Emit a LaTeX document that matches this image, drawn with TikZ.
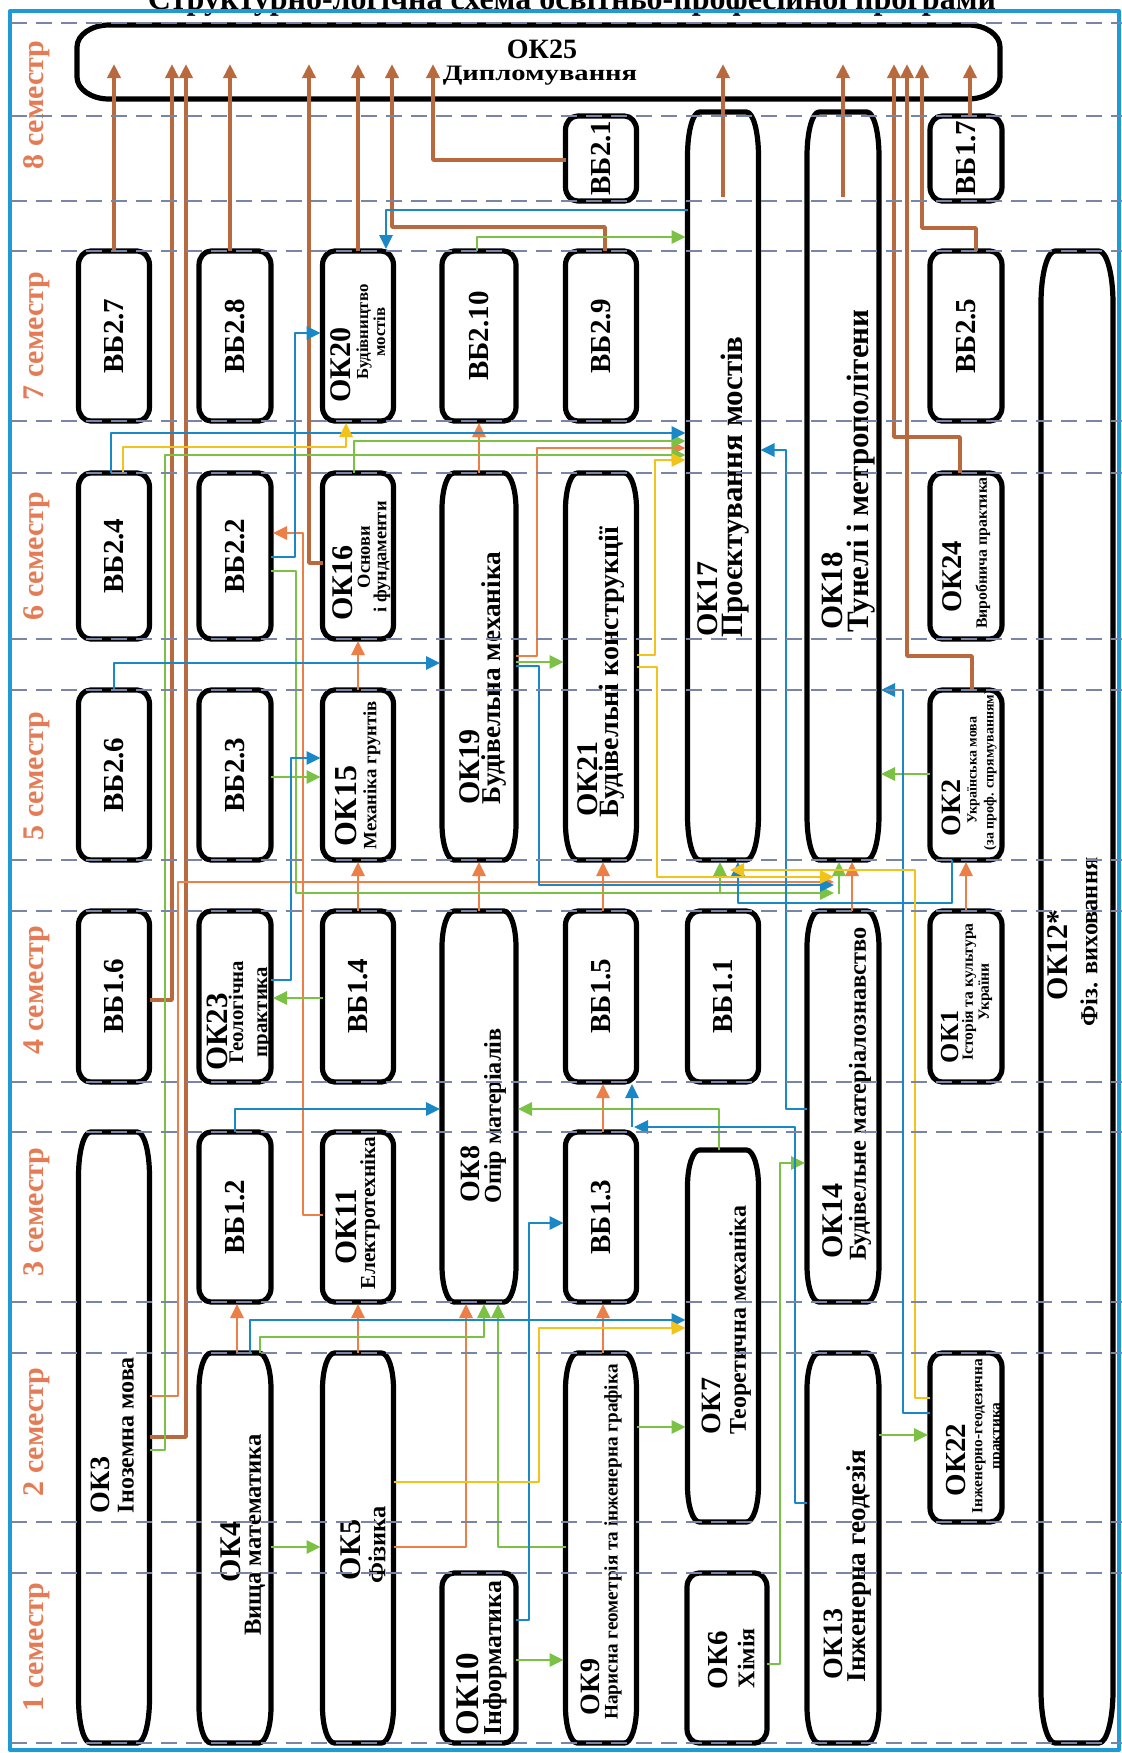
\documentclass[tikz,border=0pt]{standalone}
\usepackage{fontspec}
\usepackage{graphicx}
\setmainfont{Liberation Serif}
\usetikzlibrary{arrows.meta}
\definecolor{frameblue}{HTML}{1E9BD7}
\definecolor{dashc}{HTML}{7A84A6}
\definecolor{semc}{HTML}{E57B55}
\definecolor{brc}{HTML}{B86A3E}
\definecolor{orc}{HTML}{EC7F47}
\definecolor{grc}{HTML}{7BC143}
\definecolor{blc}{HTML}{1A87C7}
\definecolor{yec}{HTML}{F2C31B}
\tikzset{
  boxnode/.style={draw=none,inner sep=0pt,outer sep=0pt},
  boxline/.style={draw=black,fill=white,line width=2.6pt},
  lab/.style={rotate=90,inner sep=0pt,align=center},
  labh/.style={inner sep=0pt,align=center},
  semlab/.style={rotate=90,inner sep=0pt,text=semc,font=\fontsize{15}{18}\selectfont\bfseries},
  tip/.style={-{Triangle[length=7pt,width=6.5pt]},shorten >=1pt},
  cbr/.style={draw=brc,line width=1.8pt,tip},
  cor/.style={draw=orc,line width=1.4pt,tip},
  cgr/.style={draw=grc,line width=1.4pt,tip},
  cbl/.style={draw=blc,line width=1.4pt,tip},
  cye/.style={draw=yec,line width=1.4pt,tip},
  dashln/.style={draw=dashc,line width=1pt,dash pattern=on 8pt off 4.5pt},
}
\newcommand\bx[7]{%
  \node[boxnode,minimum width={#5*0.5pt},minimum height={(#4-#3)*0.5pt}] (#1) at (#2,{(#3+#4)/2}) {};
  \filldraw[boxline] ([xshift=#6]#1.north west) -- ([xshift=-#6]#1.north east)
   arc[start angle=90,end angle=0,x radius=#6,y radius=#7]
   -- ([yshift=#7]#1.south east)
   arc[start angle=0,end angle=-90,x radius=#6,y radius=#7]
   -- ([xshift=#6]#1.south west)
   arc[start angle=270,end angle=180,x radius=#6,y radius=#7]
   -- ([yshift=-#7]#1.north west)
   arc[start angle=180,end angle=90,x radius=#6,y radius=#7] -- cycle;}
\newcommand\lab[6]{\node[lab,font=\fontsize{#4}{#5}\selectfont\bfseries] (#1) at (#2,#3) {#6};}
\begin{document}
\begin{tikzpicture}[x=0.5pt,y=-0.5pt,line join=round]
\useasboundingbox (0,0) rectangle (1122,1753);
\fill[white] (0,0) rectangle (1122,1753);
% title
\node[anchor=base,inner sep=0pt,font=\fontsize{16}{19}\selectfont\bfseries] (title) at (572,9) {Структурно-логічна схема освітньо-професійної програми};
% frame
\draw[frameblue,line width=2pt] (10,11) rectangle (1119,1750);
% semester labels
\node[semlab] (s1) at (37,1647) {1 семестр};
\node[semlab] (s2) at (37,1432) {2 семестр};
\node[semlab] (s3) at (37,1212) {3 семестр};
\node[semlab] (s4) at (37,990) {4 семестр};
\node[semlab] (s5) at (37,776) {5 семестр};
\node[semlab] (s6) at (37,556) {6 семестр};
\node[semlab] (s7) at (37,336) {7 семестр};
\node[semlab] (s8) at (37,105) {8 семестр};
% boxes
\bx{ok25}{538.5}{25}{99}{923}{16pt}{11pt}
\bx{vb21}{601}{116}{201}{71}{6pt}{7pt}
\bx{vb17}{966}{116}{201}{72}{6pt}{7pt}
\bx{ok17}{723}{112}{860}{71}{6pt}{22pt}
\bx{ok18}{843}{112}{860}{72}{6pt}{22pt}
\bx{ok12}{1077}{251}{1743}{72}{7pt}{26pt}
\bx{vb27}{114}{251}{421}{71}{6pt}{7pt}
\bx{vb28}{235}{251}{421}{72}{6pt}{7pt}
\bx{ok20}{358}{251}{421}{71}{6pt}{7pt}
\bx{vb210}{479}{251}{421}{74}{6pt}{7pt}
\bx{vb29}{601}{251}{421}{71}{6pt}{7pt}
\bx{vb25}{966}{251}{421}{72}{6pt}{7pt}
\bx{vb24}{114}{473}{639}{71}{6pt}{7pt}
\bx{vb22}{235}{473}{639}{72}{6pt}{7pt}
\bx{ok16}{358}{473}{639}{71}{6pt}{7pt}
\bx{ok24}{966}{473}{639}{72}{6pt}{7pt}
\bx{ok19}{479}{473}{860}{74}{6pt}{18pt}
\bx{ok21}{601}{473}{860}{71}{6pt}{18pt}
\bx{vb26}{114}{690}{860}{71}{6pt}{7pt}
\bx{vb23}{235}{690}{860}{72}{6pt}{7pt}
\bx{ok15}{358}{690}{860}{71}{6pt}{7pt}
\bx{ok2}{966}{690}{860}{72}{6pt}{7pt}
\bx{vb16}{114}{911}{1082}{71}{6pt}{7pt}
\bx{ok23}{235}{911}{1082}{72}{6pt}{7pt}
\bx{vb14}{358}{911}{1082}{71}{6pt}{7pt}
\bx{vb15}{601}{911}{1082}{71}{6pt}{7pt}
\bx{vb11}{723}{911}{1082}{71}{6pt}{7pt}
\bx{ok1}{966}{911}{1082}{72}{6pt}{7pt}
\bx{ok8}{479}{911}{1302}{74}{6pt}{18pt}
\bx{ok14}{843}{911}{1302}{72}{6pt}{18pt}
\bx{vb12}{235}{1132}{1302}{72}{6pt}{7pt}
\bx{ok11}{358}{1132}{1302}{71}{6pt}{7pt}
\bx{vb13}{601}{1132}{1302}{71}{6pt}{7pt}
\bx{ok3}{114}{1132}{1743}{71}{6pt}{22pt}
\bx{ok7}{723}{1150}{1522}{71}{6pt}{18pt}
\bx{ok4}{235}{1353}{1743}{72}{6pt}{18pt}
\bx{ok5}{358}{1353}{1743}{71}{6pt}{18pt}
\bx{ok9}{601}{1353}{1743}{71}{6pt}{18pt}
\bx{ok13}{843}{1353}{1743}{72}{6pt}{18pt}
\bx{ok22}{966}{1353}{1522}{72}{6pt}{7pt}
\bx{ok10}{479}{1573}{1743}{74}{6pt}{7pt}
\bx{ok6}{727}{1573}{1743}{80}{6pt}{7pt}
% labels
\node[labh,font=\fontsize{14}{16}\selectfont\bfseries] (ok25c) at (542,49) {ОК25};
\node[labh,font=\fontsize{11}{13}\selectfont\bfseries] (ok25s) at (540,76) {\scalebox{1.3}[1]{Дипломування}};
\lab{vb21t}{601}{158}{14.5}{17}{ВБ2.1}
\lab{vb17t}{966}{158}{14.5}{17}{ВБ1.7}
\lab{vb27t}{114}{336}{14.5}{17}{ВБ2.7}
\lab{vb28t}{235}{336}{14.5}{17}{ВБ2.8}
\lab{vb210t}{479}{336}{14.5}{17}{ВБ2.10}
\lab{vb29t}{601}{336}{14.5}{17}{ВБ2.9}
\lab{vb25t}{966}{336}{14.5}{17}{ВБ2.5}
\lab{vb24t}{114}{556}{14.5}{17}{ВБ2.4}
\lab{vb22t}{235}{556}{14.5}{17}{ВБ2.2}
\lab{vb26t}{114}{775}{14.5}{17}{ВБ2.6}
\lab{vb23t}{235}{775}{14.5}{17}{ВБ2.3}
\lab{vb16t}{114}{996}{14.5}{17}{ВБ1.6}
\lab{vb14t}{358}{996}{14.5}{17}{ВБ1.4}
\lab{vb15t}{601}{996}{14.5}{17}{ВБ1.5}
\lab{vb11t}{723}{996}{14.5}{17}{ВБ1.1}
\lab{vb12t}{235}{1217}{14.5}{17}{ВБ1.2}
\lab{vb13t}{601}{1217}{14.5}{17}{ВБ1.3}
\lab{ok17c}{708}{599}{15}{17}{ОК17}
\lab{ok17s}{735}{487}{15.5}{17}{Проєктування мостів}
\lab{ok18c}{832}{591}{15.5}{17}{ОК18}
\lab{ok18s}{861}{471}{15.5}{17}{Тунелі і метрополітени}
\lab{ok19c}{470}{767}{15}{17}{ОК19}
\lab{ok19s}{494}{678}{13.6}{15}{Будівельна механіка}
\lab{ok21c}{588}{779}{15}{17}{ОК21}
\lab{ok21s}{612}{672}{14}{16}{Будівельні конструкції}
\lab{ok15c}{346}{806}{16}{18}{ОК15}
\lab{ok15s}{372}{775}{9.4}{11}{Механіка грунтів}
\lab{ok16c}{343}{583}{15}{17}{ОК16}
\lab{ok16s}{374}{557}{9.2}{8.2}{Основи\\і фундаменти}
\lab{ok20c}{341}{365}{15}{17}{ОК20}
\lab{ok20s}{371}{332}{8.4}{8.5}{Будівництво\\мостів}
\lab{ok24c}{952}{577}{14.3}{16}{ОК24}
\lab{ok24s}{983}{553}{7.9}{9}{Виробнича практика}
\lab{ok2c}{951}{808}{14}{16}{ОК2}
\lab{ok2s}{982}{770}{7}{8.5}{Українська мова\\(за проф. спрямуванням)}
\lab{ok23c}{217}{1032}{15.5}{17}{ОК23}
\lab{ok23s}{250}{1012}{10.4}{12}{Геологічна\\практика}
\lab{ok8c}{470}{1174}{14}{16}{ОК8}
\lab{ok8s}{495}{1116}{12.1}{14}{Опір матеріалів}
\lab{ok11c}{346}{1227}{15.5}{17}{ОК11}
\lab{ok11s}{370}{1213}{10.7}{12}{Електротехніка}
\lab{ok14c}{833}{1221}{15}{17}{ОК14}
\lab{ok14s}{860}{1094}{12.2}{14}{Будівельне матеріалознавство}
\lab{ok1c}{950}{1037}{13}{15}{ОК1}
\lab{ok1s}{977}{992}{7.8}{8}{Історія та культура\\України}
\lab{ok12c}{1058}{955}{15}{17}{ОК12*}
\lab{ok12s}{1089}{942}{12.2}{14}{Фіз. виховання}
\lab{ok3c}{100}{1485}{14}{16}{ОК3}
\lab{ok3s}{126}{1435}{12}{14}{Іноземна мова}
\lab{ok4c}{231}{1552}{15}{17}{ОК4}
\lab{ok4s}{255}{1535}{12.3}{14}{Вища математика}
\lab{ok5c}{351}{1550}{15}{17}{ОК5}
\lab{ok5s}{377}{1545}{12.2}{14}{Фізика}
\lab{ok10c}{468}{1694}{16.5}{18}{ОК10}
\lab{ok10s}{495}{1658}{12.9}{14}{Інформатика}
\lab{ok9c}{590}{1687}{14}{16}{ОК9}
\lab{ok9s}{613}{1542}{9.6}{11}{Нарисна геометрія та інженерна графіка}
\lab{ok7c}{711}{1406}{14}{16}{ОК7}
\lab{ok7s}{740}{1320}{12}{14}{Теоретична механіка}
\lab{ok6c}{718}{1660}{14.5}{16}{ОК6}
\lab{ok6s}{746}{1658}{12}{14}{Хімія}
\lab{ok13c}{833}{1644}{14}{16}{ОК13}
\lab{ok13s}{859}{1566}{13.6}{15}{Інженерна геодезія}
\lab{ok22c}{956}{1460}{14.5}{16}{ОК22}
\lab{ok22s}{988}{1436}{7.7}{9}{Інженерно-геодезична\\практика}
% helper coordinates
\coordinate (conv) at (836,886);
\coordinate (cvup) at (839,894);
\coordinate (gbr) at (720,893);
\coordinate (bk) at (632,1127);
\coordinate (yt) at (728,870);
% brown connectors to OK25
\draw[cbr] (vb27.north) -- (ok25.center -| vb27.north);
\draw[cbr] (vb16.east |- 0,1000) -| (ok25.center -| 172,0);
\draw[cbr] (ok3.east |- 0,1437) -| (ok25.center -| 186,0);
\draw[cbr] (vb28.north -| 230,0) -- (ok25.center -| 230,0);
\draw[cbr] (ok16.west |- 0,563) -| (ok25.center -| 309,0);
\draw[cbr] (ok20.north) -- (ok25.center -| ok20.north);
\draw[cbr] (vb29.north -| 605,0) |- (392,227) -- (ok25.center -| 392,0);
\draw[cbr] (vb21.west |- 0,160) -| (ok25.center -| 433,0);
\draw[cbr] (ok17.north |- 0,197) -- (ok25.center -| ok17.north);
\draw[cbr] (ok18.north |- 0,197) -- (ok25.center -| ok18.north);
\draw[cbr] (ok24.north -| 960,0) |- (894,437) -- (ok25.center -| 894,0);
\draw[cbr] (ok2.north -| 972,0) |- (907,656) -- (ok25.center -| 907,0);
\draw[cbr] (vb25.north -| 976,0) |- (922,228) -- (ok25.center -| 922,0);
\draw[cbr] (vb17.north -| 970,0) -- (ok25.center -| 970,0);
% orange
\draw[cor] (ok4.north -| 237,0) -- (vb12.south -| 237,0);
\draw[cor] (ok5.north) -- (ok11.south);
\draw[cor] (ok5.east |- 0,1547) -| (ok8.south -| 466,0);
\draw[cor] (ok9.north -| 603,0) -- (vb13.south -| 603,0);
\draw[cor] (vb13.north -| 603,0) -- (vb15.south -| 603,0);
\draw[cor] (vb15.north -| 603,0) -- (ok21.south -| 603,0);
\draw[cor] (vb14.north) -- (ok15.south);
\draw[cor] (ok15.north) -- (ok16.south);
\draw[cor] (ok8.north) -- (ok19.south);
\draw[cor] (ok19.north) -- (vb210.south);
\draw[cor] (ok14.north -| 852,0) -- (ok18.south -| 852,0);
\draw[cor] (ok1.north) -- (ok2.south);
\draw[cor] (ok11.west |- 0,1215) -| (303,533) -- (vb22.east |- 0,533);
\draw[cor] (ok19.east |- 0,656) -| (537,448) -- (ok17.west |- 0,448);
\draw[cor] (ok3.east |- 0,1396) -| (178,882) -- (conv |- 0,882);
% green
\draw[cgr] (ok4.east |- 0,1547) -- (ok5.west |- 0,1547);
\draw[cgr] (ok10.east |- 0,1660) -- (ok9.west |- 0,1660);
\draw[cgr] (ok9.east |- 0,1427) -- (ok7.west |- 0,1427);
\draw[cgr] (ok13.east |- 0,1435) -- (ok22.west |- 0,1435);
\draw[cgr] (ok4.north -| 260,0) |- (484,1337) -- (ok8.south -| 484,0);
\draw[cgr] (ok9.west |- 0,1547) -| (ok8.south -| 498,0);
\draw[cgr] (ok7.north -| 719,0) |- (ok8.east |- 0,1109);
\draw[cgr] (ok6.east |- 0,1664) -| (780,1163) -- (ok14.west |- 0,1163);
\draw[cgr] (vb14.west |- 0,998) -- (ok23.east |- 0,998);
\draw[cgr] (vb23.east |- 0,777) -- (ok15.west |- 0,777);
\draw[cgr] (ok19.east |- 0,662) -- (ok21.west |- 0,662);
\draw[cgr] (ok2.west |- 0,774) -- (ok18.east |- 0,774);
\draw[cgr] (ok16.north -| 354,0) |- (ok17.west |- 0,441);
\draw[cgr] (ok3.east |- 0,1450) -| (165,455) -- (ok17.west |- 0,455);
\draw[cgr] (vb210.north -| 477,0) |- (ok17.west |- 0,237);
\draw[cgr] (vb22.east |- 0,571) -| (296,893) -- (conv |- 0,893);
\draw[cgr] (gbr) -- (ok17.south -| gbr);
\draw[cgr] (cvup) -- (ok18.south -| cvup);
% blue
\draw[cbl] (ok4.north -| 250,0) |- (ok7.west |- 0,1320);
\draw[cbl] (ok10.east |- 0,1620) -| (529,1223) -- (vb13.west |- 0,1223);
\draw[cbl] (vb12.north) |- (ok8.west |- 0,1109);
\draw[cbl] (ok13.west |- 0,1503) -| (795,1127) -- (bk);
\draw[cbl] (bk) -- (vb15.south -| bk);
\draw[cbl] (ok14.west |- 0,1109) -| (786,450) -- (ok17.east |- 0,450);
\draw[cbl] (ok23.east |- 0,980) -| (291,758) -- (ok15.west |- 0,758);
\draw[cbl] (vb26.north) |- (ok19.west |- 0,663);
\draw[cbl] (vb22.east |- 0,557) -| (295,333) -- (ok20.west |- 0,333);
\draw[cbl] (vb24.north -| 111,0) |- (ok17.west |- 0,433);
\draw[cbl] (ok17.west |- 0,210) -| (ok20.north -| 386,0);
\draw[cbl] (ok19.east |- 0,666) -| (539,885) -- (conv |- 0,885);
\draw[cbl] (ok2.south -| 952,0) |- (738,903) -- (ok17.south -| 738,0);
\draw[cbl] (ok22.west |- 0,1413) -| (903,690) -- (ok18.east |- 0,690);
% yellow
\draw[cye] (vb24.north -| 123,0) |- (346,447) -- (ok20.south -| 346,0);
\draw[cye] (ok21.east |- 0,655) -| (655,460) -- (ok17.west |- 0,460);
\draw[cye] (ok21.east |- 0,667) -| (657,877) -- (conv |- 0,877);
\draw[cye] (ok22.west |- 0,1398) -| (915,870) -- (yt);
\draw[cye] (ok5.east |- 0,1482) -| (539,1328) -- (ok7.west |- 0,1328);
% dashed semester lines
\foreach \yy in {23,116,201,251,421,473,639,690,860,911,1082,1132,1302,1353,1522,1573,1743}
  \draw[dashln] (11,\yy) -- (1122,\yy);
\end{tikzpicture}
\end{document}
